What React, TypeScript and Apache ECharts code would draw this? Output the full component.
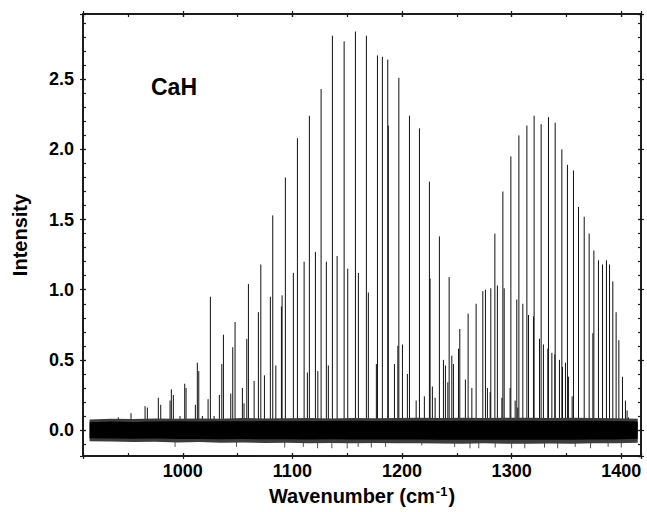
import React, { useEffect, useRef } from "react";
import * as echarts from "echarts";

// ---- axis ranges ----
const X_MIN = 909;
const X_MAX = 1418;
const Y_MIN = -0.185;
const Y_MAX = 2.965;

// ---- spectral lines: wavenumber (cm-1) and peak intensity ----
const PEAK_WN = [
  941.2, 952.8, 965.6, 967.7, 977.7, 979.9, 988.4, 989.6, 991.4, 997.5,
  1001.8, 1003.0, 1011.5, 1013.3, 1014.6, 1017.9, 1023.1, 1025.2, 1028.6, 1033.4,
  1035.6, 1037.1, 1043.8, 1045.6, 1047.7, 1054.4, 1055.9, 1058.4, 1059.9, 1065.1,
  1069.0, 1071.2, 1074.5, 1079.9, 1082.1, 1084.9, 1090.0, 1090.6, 1093.6, 1100.9,
  1104.6, 1110.7, 1113.7, 1115.5, 1121.0, 1123.2, 1126.2, 1131.0, 1132.8, 1136.5,
  1140.8, 1147.2, 1150.5, 1157.5, 1160.2, 1167.5, 1169.3, 1176.6, 1177.6, 1182.1,
  1187.0, 1187.5, 1193.1, 1196.2, 1197.1, 1200.4, 1204.9, 1206.8, 1212.9, 1215.9,
  1220.4, 1225.0, 1225.6, 1227.7, 1230.2, 1234.1, 1237.8, 1239.6, 1241.8, 1243.0,
  1245.4, 1246.9, 1251.5, 1252.7, 1257.8, 1260.3, 1263.7, 1267.6, 1273.7, 1276.1,
  1277.9, 1280.4, 1281.0, 1284.7, 1287.0, 1291.1, 1292.0, 1293.2, 1298.6, 1299.3,
  1303.2, 1304.7, 1305.6, 1306.6, 1310.2, 1313.9, 1315.4, 1319.9, 1320.5, 1325.4,
  1326.9, 1329.0, 1333.0, 1333.6, 1336.7, 1339.4, 1339.7, 1343.6, 1345.8, 1346.4,
  1349.1, 1350.9, 1351.8, 1355.2, 1356.4, 1361.0, 1366.2, 1370.7, 1374.1, 1375.0,
  1379.2, 1382.9, 1386.5, 1389.3, 1392.3, 1395.3, 1397.8, 1401.1, 1403.8, 1405.3,
  1406.6,
];
const PEAK_H = [
  0.09, 0.12, 0.17, 0.16, 0.23, 0.18, 0.21, 0.29, 0.25, 0.1,
  0.33, 0.3, 0.18, 0.48, 0.42, 0.1, 0.22, 0.95, 0.1, 0.25,
  0.47, 0.68, 0.26, 0.59, 0.77, 0.3, 0.19, 0.65, 1.04, 0.35,
  0.84, 1.18, 0.39, 0.95, 1.53, 0.46, 0.88, 0.96, 1.8, 1.12,
  2.08, 1.2, 0.41, 2.24, 1.27, 0.42, 2.43, 1.2, 0.46, 2.81,
  1.24, 2.77, 1.15, 2.84, 1.12, 2.81, 0.98, 0.47, 2.67, 2.66,
  2.64, 2.17, 0.47, 0.6, 2.51, 0.61, 0.4, 2.24, 0.21, 2.15,
  0.24, 1.77, 1.08, 0.31, 0.23, 1.38, 0.5, 0.46, 0.34, 1.09,
  0.53, 0.47, 0.58, 0.72, 0.36, 0.83, 0.3, 0.9, 0.99, 1.0,
  0.3, 0.27, 1.01, 1.4, 1.03, 0.23, 1.7, 1.01, 0.3, 1.95,
  0.21, 0.93, 0.16, 2.1, 0.9, 2.17, 0.82, 0.81, 2.24, 0.65,
  2.18, 0.61, 0.58, 2.23, 0.55, 0.54, 2.19, 0.5, 2.0, 0.45,
  0.48, 1.89, 0.38, 0.24, 1.85, 1.59, 1.52, 1.4, 0.69, 1.28,
  1.21, 1.18, 1.21, 1.18, 1.06, 0.84, 0.64, 0.38, 0.21, 0.14,
  0.09,
];

// ---- baseline noise band: envelope ----
const NOISE_X = [
  915, 935, 955, 975, 995, 1015, 1035, 1055, 1075, 1095, 1115, 1135, 1155,
  1175, 1195, 1215, 1235, 1255, 1275, 1295, 1315, 1335, 1355, 1375, 1395, 1415,
];
const NOISE_OUTER_HI = [
  0.075, 0.08, 0.078, 0.082, 0.08, 0.083, 0.08, 0.085, 0.082, 0.084, 0.085, 0.083, 0.086,
  0.084, 0.085, 0.087, 0.085, 0.088, 0.086, 0.088, 0.087, 0.086, 0.088, 0.085, 0.084, 0.08,
];
const NOISE_OUTER_LO = [
  -0.08, -0.082, -0.085, -0.083, -0.088, -0.086, -0.09, -0.088, -0.092, -0.09, -0.094, -0.092, -0.095,
  -0.093, -0.095, -0.094, -0.096, -0.097, -0.095, -0.098, -0.097, -0.096, -0.098, -0.095, -0.094, -0.09,
];
const NOISE_CORE_HI = [
  0.055, 0.06, 0.058, 0.06, 0.062, 0.06, 0.063, 0.062, 0.064, 0.063, 0.065, 0.064, 0.066,
  0.064, 0.065, 0.066, 0.065, 0.067, 0.066, 0.067, 0.066, 0.065, 0.067, 0.066, 0.064, 0.06,
];
const NOISE_CORE_LO = [
  -0.058, -0.06, -0.062, -0.06, -0.064, -0.063, -0.065, -0.064, -0.066, -0.065, -0.067, -0.066, -0.068,
  -0.067, -0.068, -0.067, -0.069, -0.07, -0.069, -0.07, -0.07, -0.069, -0.07, -0.068, -0.067, -0.062,
];
// downward noise spikes below the band
const SPIKE_WN = [
  993, 1049, 1093, 1110, 1123, 1136, 1150, 1160, 1172, 1185, 1218, 1248,
  1262, 1270, 1285, 1300, 1312, 1330, 1342, 1358, 1372, 1388, 1400,
];
const SPIKE_LO = [
  -0.12, -0.12, -0.125, -0.12, -0.13, -0.13, -0.13, -0.12, -0.125, -0.12, -0.11, -0.12,
  -0.13, -0.13, -0.125, -0.13, -0.13, -0.125, -0.13, -0.12, -0.13, -0.12, -0.125,
];

const LABEL = "CaH";
const X_TITLE = "Wavenumber (cm";
const Y_TITLE = "Intensity";

const FONT = "'Liberation Sans', Arial, Helvetica, sans-serif";
const INK = "#1a1a1a";

function xAxisDef(position: string, split: number, inside: boolean, len: number, labels: boolean, extra: any = {}) {
  return {
    type: "value",
    position,
    min: X_MIN,
    max: X_MAX,
    splitNumber: split,
    axisLine: { show: true, onZero: false, lineStyle: { color: INK, width: 1.5 } },
    axisTick: { show: true, inside, length: len, lineStyle: { color: INK, width: 1.2 } },
    axisLabel: labels
      ? {
          show: true,
          showMinLabel: false,
          showMaxLabel: false,
          color: "#000",
          fontFamily: FONT,
          fontWeight: "bold",
          fontSize: 18,
          margin: 6,
          formatter: (v: number) => String(Math.round(v)),
        }
      : { show: false },
    splitLine: { show: false },
    ...extra,
  };
}

function yAxisDef(position: string, split: number, inside: boolean, len: number, labels: boolean, extra: any = {}) {
  return {
    type: "value",
    position,
    min: Y_MIN,
    max: Y_MAX,
    splitNumber: split,
    axisLine: { show: true, onZero: false, lineStyle: { color: INK, width: 1.5 } },
    axisTick: { show: true, inside, length: len, lineStyle: { color: INK, width: 1.2 } },
    axisLabel: labels
      ? {
          show: true,
          showMinLabel: false,
          showMaxLabel: false,
          color: "#000",
          fontFamily: FONT,
          fontWeight: "bold",
          fontSize: 18,
          margin: 9,
          formatter: (v: number) => v.toFixed(1),
        }
      : { show: false },
    splitLine: { show: false },
    ...extra,
  };
}

export default function App() {
  const ref = useRef<HTMLDivElement>(null);

  useEffect(() => {
    if (!ref.current) return;
    const chart = echarts.init(ref.current, null, { renderer: "svg" });

    const peaks = PEAK_WN.map((x, i) => [x, PEAK_H[i]]);
    const spikes = SPIKE_WN.map((x, i) => [x, SPIKE_LO[i]]);

    const option: any = {
      animation: false,
      backgroundColor: "#ffffff",
      grid: { left: 83, right: 6, top: 14, bottom: 56, containLabel: false },
      xAxis: [
        xAxisDef("bottom", 5, true, 3, true, {
          name: `{b|${X_TITLE}}{s|-1}{b|)}`,
          nameLocation: "middle",
          nameGap: 27,
          nameTextStyle: {
            rich: {
              b: { fontFamily: FONT, fontWeight: "bold", fontSize: 20, color: "#000" },
              s: { fontFamily: FONT, fontWeight: "bold", fontSize: 13, color: "#000", padding: [0, 1, 9, 1] },
            },
          },
        }),
        xAxisDef("bottom", 5, false, 3, false),
        xAxisDef("bottom", 10, true, 3, false),
        xAxisDef("top", 5, true, 3, false),
        xAxisDef("top", 5, false, 3, false),
        xAxisDef("top", 10, true, 3, false),
      ],
      yAxis: [
        yAxisDef("left", 6, true, 3, true, {
          name: Y_TITLE,
          nameLocation: "middle",
          nameGap: 53,
          nameTextStyle: { fontFamily: FONT, fontWeight: "bold", fontSize: 20, color: "#000" },
        }),
        yAxisDef("left", 6, false, 3, false),
        yAxisDef("left", 30, true, 3, false),
        yAxisDef("right", 6, true, 3, false),
        yAxisDef("right", 6, false, 3, false),
        yAxisDef("right", 30, true, 3, false),
      ],
      graphic: [
        {
          type: "text",
          left: 151,
          top: 75,
          style: {
            text: LABEL,
            fill: "#000",
            font: `bold 23px ${FONT}`,
          },
          z: 10,
        },
      ],
      series: [
        {
          type: "custom",
          name: "lines",
          xAxisIndex: 0,
          yAxisIndex: 0,
          data: peaks,
          z: 2,
          renderItem: (params: any, api: any) => {
            const p0 = api.coord([api.value(0), 0]);
            const p1 = api.coord([api.value(0), api.value(1)]);
            return {
              type: "line",
              shape: { x1: p0[0], y1: p0[1], x2: p1[0], y2: p1[1] },
              style: { stroke: "#111", lineWidth: 1 },
            };
          },
        },
        {
          type: "custom",
          name: "spikes",
          xAxisIndex: 0,
          yAxisIndex: 0,
          data: spikes,
          z: 3,
          renderItem: (params: any, api: any) => {
            const p0 = api.coord([api.value(0), 0]);
            const p1 = api.coord([api.value(0), api.value(1)]);
            return {
              type: "line",
              shape: { x1: p0[0], y1: p0[1], x2: p1[0], y2: p1[1] },
              style: { stroke: "#555", lineWidth: 1 },
            };
          },
        },
        {
          type: "custom",
          name: "noise",
          xAxisIndex: 0,
          yAxisIndex: 0,
          data: [[NOISE_X[0], 0]],
          z: 4,
          renderItem: (params: any, api: any) => {
            const outer = NOISE_X.map((x, i) => api.coord([x, NOISE_OUTER_HI[i]]))
              .concat(NOISE_X.map((x, i) => api.coord([x, NOISE_OUTER_LO[i]])).reverse());
            const core = NOISE_X.map((x, i) => api.coord([x, NOISE_CORE_HI[i]]))
              .concat(NOISE_X.map((x, i) => api.coord([x, NOISE_CORE_LO[i]])).reverse());
            return {
              type: "group",
              children: [
                { type: "polygon", shape: { points: outer }, style: { fill: "#3c3c3c" } },
                { type: "polygon", shape: { points: core }, style: { fill: "#000" } },
              ],
            };
          },
        },
      ],
    };

    chart.setOption(option);
    return () => chart.dispose();
  }, []);

  return (
    <div
      ref={ref}
      style={{ position: "fixed", left: 0, top: 0, width: 647, height: 512, background: "#fff" }}
    />
  );
}
